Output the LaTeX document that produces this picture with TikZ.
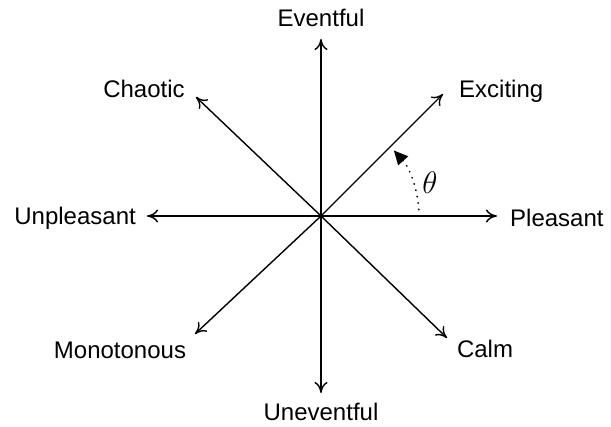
\documentclass[tikz,border=0pt]{standalone}
\usepackage{fontspec}
\setmainfont{Liberation Sans}
\usetikzlibrary{arrows.meta}
\begin{document}
\begin{tikzpicture}[x=1pt,y=-1pt,
  axis/.style={line width=1.4pt,-{To[length=11pt,width=13pt,line width=1.4pt]}},
  lbl/.style={font=\fontsize{24}{27}\selectfont,inner sep=0pt},
  anglearc/.style={line width=2pt,dash pattern=on 0.01pt off 6.5pt,line cap=round,-{Triangle[length=14pt,width=13pt]}}]
\useasboundingbox (0,0) rectangle (611,427);
\coordinate (c) at (321,216);
\coordinate (n) at (321,39);
\coordinate (s) at (321,393);
\coordinate (w) at (147,216);
\coordinate (e) at (497,216);
\coordinate (ne) at (443,94);
\coordinate (nw) at (196,97);
\coordinate (sw) at (195,334);
\coordinate (se) at (447,338);
\foreach \t in {n,s,w,e,ne,nw,sw,se}{\draw[axis] (c) -- (\t);}
\node[lbl] (ev) at (321,18) {Eventful};
\node[lbl] (unev) at (321,412) {Uneventful};
\node[lbl,anchor=east] (unp) at (136,218) {Unpleasant};
\node[lbl,anchor=west] (pl) at (510,218) {Pleasant};
\node[lbl,anchor=west] (exc) at (459,91) {Exciting};
\node[lbl] (cha) at (144,89) {Chaotic};
\node[lbl] (mon) at (120,350) {Monotonous};
\node[lbl] (calm) at (485,349) {Calm};
\coordinate (a0) at (419,216);
\draw[anglearc] (a0) arc[start angle=0,end angle=-42,radius=98];
\node[font=\fontsize{20}{22}\selectfont,scale=1.5,inner sep=0pt] (th) at (430,183) {$\theta$};
\end{tikzpicture}
\end{document}
